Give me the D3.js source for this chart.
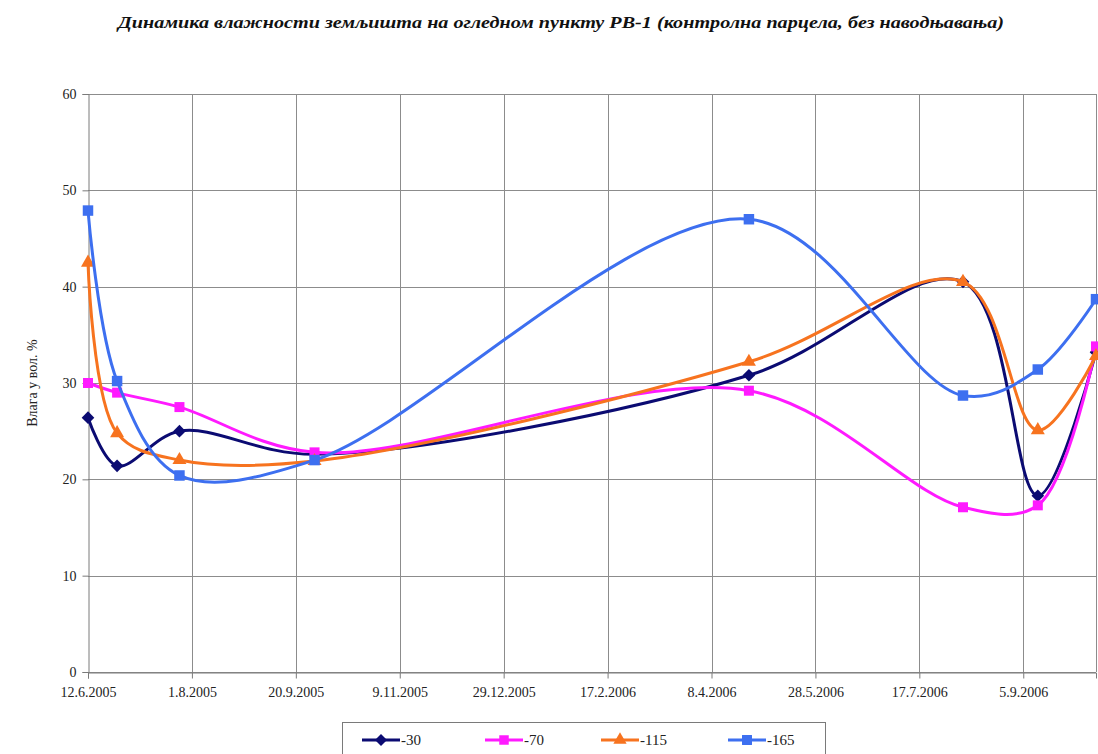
<!DOCTYPE html>
<html>
<head>
<meta charset="utf-8">
<script src="https://cdn.jsdelivr.net/npm/d3@7/dist/d3.min.js"></script>
<style>
  body { margin: 0; background: #fff; }
  svg, svg text { font-family: "Liberation Serif", "Times New Roman", Tinos, "DejaVu Serif", serif !important; }
</style>
</head>
<body>
<div id="chart"></div>
<script>
// dates of the measurements
var dates = ["12.6.2005", "26.6.2005", "26.7.2005", "29.9.2005", "26.4.2006", "7.8.2006", "12.9.2006", "10.10.2006"];
// soil moisture (% vol.) at each depth
var d30  = [26.4, 21.4, 25.0, 22.6, 30.8, 40.5, 18.3, 33.2];
var d70  = [30.0, 29.0, 27.5, 22.8, 29.2, 17.1, 17.3, 33.8];
var d115 = [42.5, 24.8, 22.0, 21.9, 32.2, 40.5, 25.1, 32.8];
var d165 = [47.9, 30.2, 20.4, 22.0, 47.0, 28.7, 31.4, 38.7];
var seriesNames = ["-30", "-70", "-115", "-165"];
// axis ticks
var xTickLabels = ["12.6.2005", "1.8.2005", "20.9.2005", "9.11.2005", "29.12.2005", "17.2.2006", "8.4.2006", "28.5.2006", "17.7.2006", "5.9.2006"];
var yTicks = [0, 10, 20, 30, 40, 50, 60];
var xEnd = "10.10.2006";

var width = 1098, height = 754;
var plot = { left: 88, right: 1096, top: 94, bottom: 672 };
var serifFont = "'Liberation Serif', 'Times New Roman', serif";

var parse = d3.utcParse("%d.%m.%Y");
var fmt = d3.utcFormat("%-d.%-m.%Y");

var svg = d3.select("#chart").append("svg")
    .attr("width", width).attr("height", height)
    .style("font-family", serifFont);

var x = d3.scaleUtc()
    .domain([parse(dates[0]), parse(xEnd)])
    .range([plot.left, plot.right]);
var y = d3.scaleLinear()
    .domain([0, 60])
    .range([plot.bottom, plot.top]);

var xTicks = xTickLabels.map(parse);

// title
svg.append("text")
    .attr("x", 561).attr("y", 28)
    .attr("text-anchor", "middle")
    .attr("font-size", 17)
    .attr("font-weight", "bold")
    .attr("font-style", "italic")
    .attr("textLength", 886)
    .attr("lengthAdjust", "spacingAndGlyphs")
    .attr("fill", "#111")
    .style("font-family", serifFont)
    .text("Динамика влажности земљишта на огледном пункту РВ-1 (контролна парцела, без наводњавања)");

// grid
var grid = svg.append("g").attr("stroke", "#8c8c8c").attr("stroke-width", 1);
grid.selectAll("line.h").data(yTicks).enter().append("line")
    .attr("x1", plot.left).attr("x2", plot.right)
    .attr("y1", function(d) { return Math.round(y(d)) + 0.5; })
    .attr("y2", function(d) { return Math.round(y(d)) + 0.5; });
grid.selectAll("line.v").data(xTicks.slice(1)).enter().append("line")
    .attr("y1", plot.top).attr("y2", plot.bottom)
    .attr("x1", function(d) { return Math.round(x(d)) + 0.5; })
    .attr("x2", function(d) { return Math.round(x(d)) + 0.5; });
grid.append("line")
    .attr("x1", plot.right + 0.5).attr("x2", plot.right + 0.5)
    .attr("y1", plot.top).attr("y2", plot.bottom);

// axes
var yAxis = d3.axisLeft(y).tickValues(yTicks).tickSize(6).tickPadding(6);
var xAxis = d3.axisBottom(x).tickValues(xTicks).tickFormat(fmt).tickSize(6).tickPadding(9);

var gy = svg.append("g")
    .attr("transform", "translate(" + (plot.left + 0.5) + ",0)")
    .call(yAxis);
var gx = svg.append("g")
    .attr("transform", "translate(0," + (plot.bottom + 0.5) + ")")
    .call(xAxis);
[gx, gy].forEach(function(g) {
  g.attr("font-family", serifFont);
  g.selectAll("path, line").attr("stroke", "#7a7a7a");
  g.selectAll("text").attr("font-size", 14).attr("fill", "#222")
    .style("font-family", serifFont);
});

svg.append("text")
    .attr("transform", "translate(37," + ((plot.top + plot.bottom) / 2) + ") rotate(-90)")
    .attr("text-anchor", "middle")
    .attr("font-size", 14)
    .attr("fill", "#222")
    .style("font-family", serifFont)
    .text("Влага у вол. %");

// wide diamond marker (square turned 45 degrees)
var diamond = {
  draw: function(context, size) {
    var r = Math.sqrt(size / 2);
    context.moveTo(0, -r);
    context.lineTo(r, 0);
    context.lineTo(0, r);
    context.lineTo(-r, 0);
    context.closePath();
  }
};

// series
var series = [
  { name: seriesNames[0], values: d30,  color: "#0b0b72", symbol: diamond, size: 80 },
  { name: seriesNames[1], values: d70,  color: "#ff1aff", symbol: d3.symbolSquare, size: 100 },
  { name: seriesNames[2], values: d115, color: "#f7731f", symbol: d3.symbolTriangle, size: 85 },
  { name: seriesNames[3], values: d165, color: "#3d6ff0", symbol: d3.symbolSquare, size: 110 }
];

var line = d3.line()
    .x(function(d) { return x(d[0]); })
    .y(function(d) { return y(d[1]); })
    .curve(d3.curveCatmullRom.alpha(0.5));

series.forEach(function(s) {
  var pts = dates.map(function(d, i) { return [parse(d), s.values[i]]; });
  var g = svg.append("g");
  g.append("path")
      .attr("d", line(pts))
      .attr("fill", "none")
      .attr("stroke", s.color)
      .attr("stroke-width", 3);
  g.selectAll("path.m").data(pts).enter().append("path")
      .attr("d", d3.symbol().type(s.symbol).size(s.size))
      .attr("transform", function(d) { return "translate(" + x(d[0]) + "," + y(d[1]) + ")"; })
      .attr("fill", s.color);
});

// legend
var legend = svg.append("g");
legend.append("rect")
    .attr("x", 342.5).attr("y", 722.5)
    .attr("width", 483).attr("height", 32)
    .attr("fill", "#fff").attr("stroke", "#7a7a7a");
var legendX = [362, 485, 601, 728];
series.forEach(function(s, i) {
  var lg = legend.append("g").attr("transform", "translate(" + legendX[i] + ",740)");
  lg.append("line").attr("x1", 0).attr("x2", 38)
      .attr("stroke", s.color).attr("stroke-width", 3);
  lg.append("path")
      .attr("d", d3.symbol().type(s.symbol).size(s.size * 0.9))
      .attr("transform", "translate(19,0)")
      .attr("fill", s.color);
  lg.append("text").attr("x", 39).attr("y", 5)
      .attr("font-size", 15).attr("fill", "#222")
      .style("font-family", serifFont)
      .text(s.name);
});
</script>
</body>
</html>
